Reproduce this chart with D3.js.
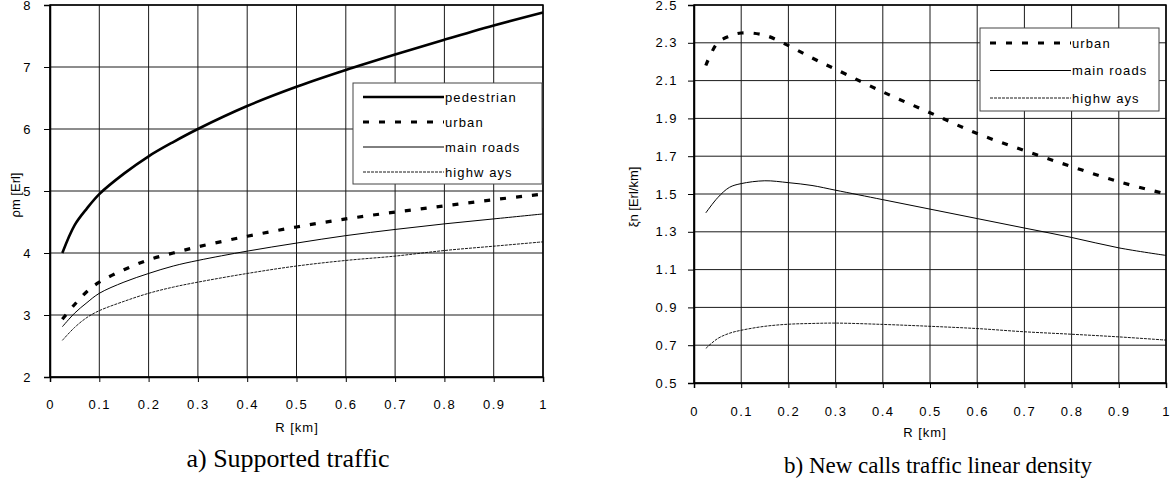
<!DOCTYPE html>
<html>
<head>
<meta charset="utf-8">
<script src="https://cdn.jsdelivr.net/npm/d3@7"></script>
<style>
    body { margin: 0; background: #fff; }
    svg { display: block; }
    text { font-family: "Liberation Sans", Arial, sans-serif; fill: #000; }
</style>
</head>
<body>
<div id="chart"></div>
<script>
// values
const rKm = [0.025, 0.05, 0.075, 0.1, 0.15, 0.2, 0.25, 0.3, 0.4, 0.5, 0.6, 0.7, 0.8, 0.9, 1.0];

// a) supported traffic, rho_m [Erl]
const pedestrianA = [4.0, 4.45, 4.72, 4.95, 5.28, 5.56, 5.79, 6.0, 6.37, 6.68, 6.95, 7.2, 7.44, 7.67, 7.88];
const urbanA      = [2.93, 3.17, 3.38, 3.53, 3.73, 3.89, 4.0, 4.1, 4.27, 4.42, 4.55, 4.66, 4.76, 4.86, 4.95];
const mainRoadsA  = [2.81, 3.03, 3.2, 3.35, 3.53, 3.67, 3.79, 3.88, 4.03, 4.16, 4.28, 4.38, 4.47, 4.55, 4.63];
const highwaysA   = [2.59, 2.8, 2.96, 3.07, 3.22, 3.35, 3.45, 3.53, 3.67, 3.79, 3.88, 3.95, 4.04, 4.11, 4.18];

// b) new calls traffic linear density, xi_n [Erl/km]
const urbanB      = [2.18, 2.3, 2.335, 2.352, 2.34, 2.285, 2.22, 2.16, 2.04, 1.93, 1.82, 1.73, 1.645, 1.565, 1.5];
const mainRoadsB  = [1.40, 1.48, 1.535, 1.555, 1.57, 1.56, 1.545, 1.52, 1.47, 1.42, 1.37, 1.32, 1.27, 1.215, 1.175];
const highwaysB   = [0.683, 0.735, 0.763, 0.779, 0.8, 0.811, 0.815, 0.817, 0.81, 0.8, 0.788, 0.771, 0.758, 0.744, 0.727];

const xTicks = [0, 0.1, 0.2, 0.3, 0.4, 0.5, 0.6, 0.7, 0.8, 0.9, 1];
const yTicksA = [2, 3, 4, 5, 6, 7, 8];
const yTicksB = [0.5, 0.7, 0.9, 1.1, 1.3, 1.5, 1.7, 1.9, 2.1, 2.3, 2.5];

const styles = {
    "pedestrian":  {width: 2.6, dash: null},
    "urban":       {width: 3.2, dash: "6,10"},
    "main roads":  {width: 1, dash: null},
    "highw ays":   {width: 0.9, dash: "3,1"}
};

const svg = d3.select("#chart").append("svg")
    .attr("width", 1176)
    .attr("height", 494);

function drawChart(cfg) {
    const g = svg.append("g");

    const x = d3.scaleLinear().domain([0, 1]).range([cfg.left, cfg.right]);
    const y = d3.scaleLinear().domain(cfg.yDomain).range([cfg.bottom, cfg.top]);

    // grid
    g.append("g").selectAll("line.vg")
        .data(xTicks)
        .join("line")
        .attr("x1", d => x(d)).attr("x2", d => x(d))
        .attr("y1", cfg.top).attr("y2", cfg.bottom)
        .attr("stroke", "#1a1a1a").attr("stroke-width", 1);

    g.append("g").selectAll("line.hg")
        .data(cfg.yTicks)
        .join("line")
        .attr("x1", cfg.left).attr("x2", cfg.right)
        .attr("y1", d => y(d)).attr("y2", d => y(d))
        .attr("stroke", "#1a1a1a").attr("stroke-width", 1);

    g.append("rect")
        .attr("x", cfg.left).attr("y", cfg.top)
        .attr("width", cfg.right - cfg.left).attr("height", cfg.bottom - cfg.top)
        .attr("fill", "none").attr("stroke", "#000").attr("stroke-width", 1.5);

    // axes
    const xAxis = g.append("g")
        .attr("transform", `translate(0, ${cfg.bottom})`)
        .call(d3.axisBottom(x).tickValues(xTicks).tickSize(5).tickPadding(cfg.xPad).tickFormat(d3.format("")));
    const yAxis = g.append("g")
        .attr("transform", `translate(${cfg.left}, 0)`)
        .call(d3.axisLeft(y).tickValues(cfg.yTicks).tickSize(6).tickPadding(cfg.yPad).tickFormat(cfg.yFormat));

    [xAxis, yAxis].forEach(a => {
        a.select(".domain").attr("stroke", "#000").attr("stroke-width", 1.5);
        a.selectAll(".tick line").attr("stroke", "#000");
        a.selectAll(".tick text")
            .attr("font-size", 13)
            .attr("font-family", "Liberation Sans, Arial, sans-serif")
            .style("letter-spacing", "1.5px");
    });

    // series
    const line = d3.line()
        .x((d, i) => x(rKm[i]))
        .y(d => y(d))
        .curve(d3.curveCatmullRom.alpha(0.5));

    g.append("g").selectAll("path")
        .data(cfg.series)
        .join("path")
        .attr("d", d => line(d.values))
        .attr("fill", "none")
        .attr("stroke", "#000")
        .attr("stroke-width", d => styles[d.name].width)
        .attr("stroke-dasharray", d => styles[d.name].dash);

    // axis titles
    g.append("text")
        .attr("x", cfg.xTitle[0]).attr("y", cfg.xTitle[1])
        .attr("text-anchor", "middle")
        .attr("font-size", 13)
        .style("letter-spacing", "1px")
        .text("R [km]");

    g.append("text")
        .attr("transform", `translate(${cfg.yTitle[0]}, ${cfg.yTitle[1]}) rotate(-90)`)
        .attr("text-anchor", "middle")
        .attr("font-size", 13)
        .text(cfg.yLabel);

    // legend
    const lg = g.append("g").attr("transform", `translate(${cfg.legend.x}, ${cfg.legend.y})`);
    lg.append("rect")
        .attr("width", cfg.legend.w).attr("height", cfg.legend.h)
        .attr("fill", "#fff").attr("stroke", "#444").attr("stroke-width", 1);

    const items = lg.selectAll("g.item")
        .data(cfg.series)
        .join("g")
        .attr("transform", (d, i) => `translate(0, ${cfg.legend.first + i * cfg.legend.step})`);

    items.append("line")
        .attr("x1", 10).attr("x2", 91)
        .attr("stroke", "#000")
        .attr("stroke-width", d => styles[d.name].width)
        .attr("stroke-dasharray", d => styles[d.name].dash);

    items.append("text")
        .attr("x", 92).attr("dy", "0.35em")
        .attr("font-size", 13)
        .style("letter-spacing", "1.1px")
        .text(d => d.name);

    // caption
    svg.append("text")
        .attr("x", cfg.caption[0]).attr("y", cfg.caption[1])
        .attr("text-anchor", "middle")
        .style("font-family", "'Liberation Serif', 'Times New Roman', serif")
        .attr("font-size", cfg.captionSize)
        .text(cfg.captionText);
}

drawChart({
    left: 50, right: 543, top: 5, bottom: 377,
    yDomain: [2, 8], yTicks: yTicksA, yFormat: d3.format("d"),
    xPad: 18, yPad: 12,
    xTitle: [297, 432], yTitle: [20, 195], yLabel: "ρm [Erl]",
    series: [
        {name: "pedestrian", values: pedestrianA},
        {name: "urban", values: urbanA},
        {name: "main roads", values: mainRoadsA},
        {name: "highw ays", values: highwaysA}
    ],
    legend: {x: 353, y: 83, w: 189, h: 101, first: 14, step: 25},
    caption: [288, 467], captionSize: 26, captionText: "a) Supported traffic"
});

drawChart({
    left: 694, right: 1166, top: 5, bottom: 383,
    yDomain: [0.5, 2.5], yTicks: yTicksB, yFormat: d3.format(".1f"),
    xPad: 19, yPad: 10,
    xTitle: [925, 437], yTitle: [638, 197], yLabel: "ξn [Erl/km]",
    series: [
        {name: "urban", values: urbanB},
        {name: "main roads", values: mainRoadsB},
        {name: "highw ays", values: highwaysB}
    ],
    legend: {x: 980, y: 28, w: 179, h: 83, first: 15, step: 27.5},
    caption: [938, 473], captionSize: 23, captionText: "b) New calls traffic linear density"
});
</script>
</body>
</html>
